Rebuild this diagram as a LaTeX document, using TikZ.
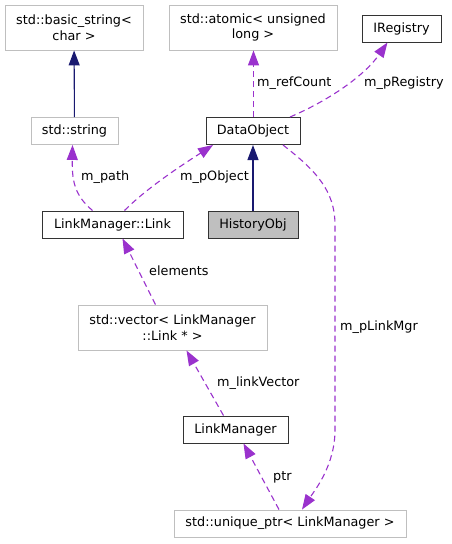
\documentclass[tikz,border=0pt]{standalone}
\usepackage{fontspec}
\setmainfont{DejaVu Sans}
\usepackage{tikz}
\usetikzlibrary{arrows.meta}

\definecolor{depcol}{HTML}{9A32CD}
\definecolor{inhcol}{HTML}{191970}
\definecolor{boxgray}{HTML}{BFBFBF}

\begin{document}
\begin{tikzpicture}[x=1pt,y=-1pt,
        font=\fontsize{12.8}{15.5}\selectfont,
        doc/.style={draw=black!80,line width=1pt,inner sep=0pt,align=center,minimum height=27pt},
        ext/.style={draw=boxgray,line width=0.9pt,inner sep=0pt,align=center,minimum height=27pt},
        inh/.style={draw=inhcol,line width=1.1pt,-{Triangle[length=15pt,width=11pt]}},
        dep/.style={draw=depcol,line width=1.1pt,dash pattern=on 6pt off 4pt,-{Triangle[length=15pt,width=11pt,fill=depcol]}},
        lbl/.style={anchor=west,inner sep=0pt}]
        \useasboundingbox (0,0) rectangle (451,544);

        % classes
        \node[ext,minimum width=138pt,minimum height=45pt] (bstr) at (74,27.5) {std::basic\_string<\\char >};
        \node[ext,minimum width=168pt,minimum height=45pt] (atomic) at (253,27.5) {std::atomic< unsigned\\long >};
        \node[doc,minimum width=79pt] (ireg) at (401.5,28.5) {IRegistry};
        \node[ext,minimum width=87pt] (str) at (74.5,131) {std::string};
        \node[doc,minimum width=94pt] (data) at (253,131) {DataObject};
        \node[doc,minimum width=141pt] (link) at (112.5,224.5) {LinkManager::Link};
        \node[doc,minimum width=90pt,fill=boxgray] (hist) at (253,224.5) {HistoryObj};
        \node[ext,minimum width=189pt,minimum height=45pt] (vec) at (172.5,327.5) {std::vector< LinkManager\\::Link * >};
        \node[doc,minimum width=105pt] (lm) at (235.5,429.5) {LinkManager};
        \node[ext,minimum width=232pt] (uptr) at (290,523.5) {std::unique\_ptr< LinkManager >};

        % inheritance
        \draw[inh] (str) -- (bstr);
        \draw[inh] (hist) -- (data);

        % usage
        \draw[dep] ([xshift=0.5pt]data.north) -- ([xshift=0.5pt]atomic.south);
        \draw[dep] ([xshift=37pt]data.north) .. controls (330,100) and (365,75) .. ([xshift=-14pt]ireg.south);
        \draw[dep] ([xshift=-20pt]link.north) .. controls (74,195) and (72,180) .. ([xshift=-2pt]str.south);
        \draw[dep] ([xshift=12pt]link.north) .. controls (150,185) and (190,160) .. ([xshift=-40pt]data.south);
        \draw[dep] ([xshift=-17pt]vec.north) -- ([xshift=10pt]link.south);
        \draw[dep] ([xshift=-12pt]lm.north) -- ([xshift=14pt]vec.south);
        \draw[dep] ([xshift=-11pt]uptr.north) -- ([xshift=8pt]lm.south);
        \draw[dep] ([xshift=30pt]data.south) .. controls (315,170) and (335,190) .. (335,225)
            -- (335,430) .. controls (335,465) and (315,490) .. ([xshift=12pt]uptr.north);

        % member names
        \node[lbl] (lrc) at (257,83) {m\_refCount};
        \node[lbl] (lreg) at (364,83) {m\_pRegistry};
        \node[lbl] (lpath) at (81,177) {m\_path};
        \node[lbl] (lobj) at (180,177) {m\_pObject};
        \node[lbl] (lel) at (149,271) {elements};
        \node[lbl] (lmgr) at (340,327) {m\_pLinkMgr};
        \node[lbl] (lvec) at (217,383) {m\_linkVector};
        \node[lbl] (lptr) at (273,477) {ptr};
\end{tikzpicture}
\end{document}
